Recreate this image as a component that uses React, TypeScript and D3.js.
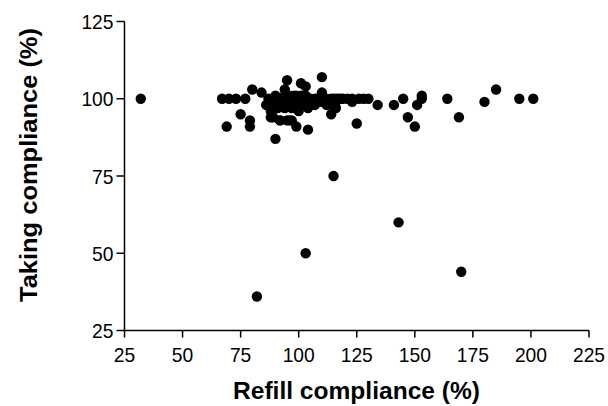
import React from "react";
import * as d3 from "d3";

const refill: number[] = [
  32, 67, 70, 73, 69, 75, 77, 79, 79, 80, 84, 82, 90, 95, 94, 101, 103, 110, 110, 104, 99, 92, 88, 96, 115,
  103, 143, 170, 114, 125, 134, 141, 145, 147, 150, 151, 153, 153, 164, 169, 180, 185, 195, 201,
  116, 119, 121, 123, 126, 128, 130, 123,
  87, 88, 89, 90, 90, 91, 92, 92, 93, 93, 94, 94, 95, 95, 96, 96, 97, 97, 98, 98, 99, 99, 100, 100, 100,
  101, 101, 102, 102, 103, 103, 104, 104, 105, 105, 106, 107, 107, 108, 108, 109, 110, 111, 112, 112, 113,
  114, 115, 116, 117, 118, 116, 88, 89, 92, 95, 97, 100, 86, 98, 114,
];
const taking: number[] = [
  100, 100, 100, 100, 91, 95, 100, 93, 91, 103, 102, 36, 87, 106, 103, 105, 104, 107, 102, 90, 91, 93, 94, 93, 75,
  50, 60, 44, 95, 92, 98, 98, 100, 94, 91, 98, 101, 100, 100, 94, 99, 103, 100, 100,
  100, 100, 100, 100, 100, 100, 100, 99,
  100, 98, 100, 99, 101, 97, 100, 98, 100, 99, 101, 97, 100, 98, 99, 101, 100, 97, 100, 98, 101, 99, 100, 97, 98,
  101, 99, 100, 98, 99, 101, 100, 97, 100, 98, 99, 100, 98, 100, 99, 100, 99, 100, 100, 98, 99,
  100, 100, 99, 100, 100, 97, 96, 94, 93, 93, 93, 96, 98, 101, 98,
];
const xTicks: number[] = [25, 50, 75, 100, 125, 150, 175, 200, 225];
const yTicks: number[] = [25, 50, 75, 100, 125];
const xTitle = "Refill compliance (%)";
const yTitle = "Taking compliance (%)";

export default function App() {
  const x = d3.scaleLinear().domain([25, 225]).range([124.5, 589]);
  const y = d3.scaleLinear().domain([25, 125]).range([330.5, 21.5]);
  const font = "'Liberation Sans', Arial, Helvetica, sans-serif";
  const pts = refill.map((r, i) => [r, taking[i]]);
  const tl = (t: number) => String(t).length * 10.7;
  return (
    <svg
      width={608}
      height={406}
      style={{ position: "absolute", left: 0, top: 0, background: "#fff" }}
      fontFamily={font}
    >
      <rect width={608} height={406} fill="#fff" />
      {/* y axis */}
      <line x1={x(25)} x2={x(25)} y1={y(125)} y2={y(25)} stroke="#000" strokeWidth={1.5} />
      {yTicks.map((t) => (
        <g key={"y" + t}>
          <line x1={x(25) - 8} x2={x(25)} y1={y(t)} y2={y(t)} stroke="#000" strokeWidth={1.5} />
          <text
            x={x(25) - 11}
            y={y(t)}
            dy="0.36em"
            textAnchor="end"
            fontSize={21}
            textLength={tl(t)}
            lengthAdjust="spacingAndGlyphs"
            fill="#000"
          >
            {t}
          </text>
        </g>
      ))}
      {/* x axis */}
      <line x1={x(25)} x2={x(225)} y1={y(25)} y2={y(25)} stroke="#000" strokeWidth={1.5} />
      {xTicks.map((t) => (
        <g key={"x" + t}>
          <line x1={x(t)} x2={x(t)} y1={y(25)} y2={y(25) + 7} stroke="#000" strokeWidth={1.5} />
          <text
            x={x(t)}
            y={362}
            textAnchor="middle"
            fontSize={21}
            textLength={tl(t)}
            lengthAdjust="spacingAndGlyphs"
            fill="#000"
          >
            {t}
          </text>
        </g>
      ))}
      {pts.map((p, i) => (
        <circle key={i} cx={x(p[0])} cy={y(p[1])} r={5.2} fill="#000" />
      ))}
      <text
        x={356.5}
        y={399}
        textAnchor="middle"
        fontSize={23}
        fontWeight="bold"
        textLength={247}
        lengthAdjust="spacingAndGlyphs"
        fill="#000"
      >
        {xTitle}
      </text>
      <text
        transform="translate(37,165) rotate(-90)"
        textAnchor="middle"
        fontSize={24}
        fontWeight="bold"
        textLength={274}
        lengthAdjust="spacingAndGlyphs"
        fill="#000"
      >
        {yTitle}
      </text>
    </svg>
  );
}
